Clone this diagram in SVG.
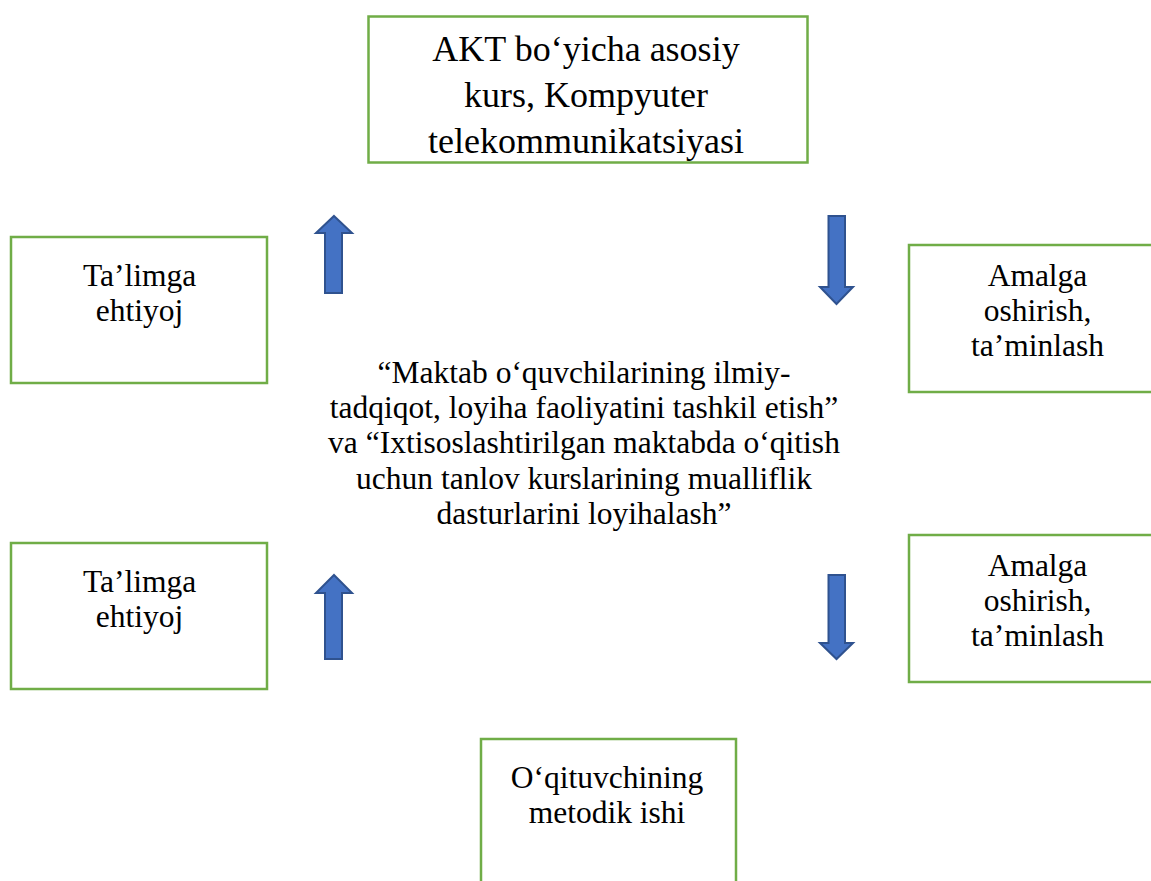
<svg xmlns="http://www.w3.org/2000/svg" width="1151" height="881" viewBox="0 0 1151 881">
<style>
.box{fill:#ffffff;stroke:#70AD47;stroke-width:2.5}
.t{font-family:'Liberation Serif','Times New Roman','DejaVu Serif',serif;font-size:31.5px;fill:#000;text-anchor:middle}
.big{font-size:36px}
.arr{fill:#4472C4;stroke:#2F528F;stroke-width:2;stroke-linejoin:miter}
</style>
<rect width="1151" height="881" fill="#ffffff"/>
<g id="node-top">
<rect class="box" x="368.5" y="16.5" width="439" height="146"/>
<text class="t big" x="586" y="61" font-family="Liberation Serif">AKT bo‘yicha asosiy</text>
<text class="t big" x="586" y="107" font-family="Liberation Serif">kurs, Kompyuter</text>
<text class="t big" x="586" y="153" font-family="Liberation Serif">telekommunikatsiyasi</text>
</g>
<g id="node-left1">
<rect class="box" x="11" y="237" width="256" height="146"/>
<text class="t" x="139.5" y="286">Ta’limga</text>
<text class="t" x="139.5" y="321">ehtiyoj</text>
</g>
<g id="node-left2">
<rect class="box" x="11" y="543" width="256" height="146"/>
<text class="t" x="139.5" y="592">Ta’limga</text>
<text class="t" x="139.5" y="627">ehtiyoj</text>
</g>
<g id="node-right1">
<rect class="box" x="909" y="245" width="260" height="147"/>
<text class="t" x="1037.5" y="286">Amalga</text>
<text class="t" x="1037.5" y="321">oshirish,</text>
<text class="t" x="1037.5" y="356">ta’minlash</text>
</g>
<g id="node-right2">
<rect class="box" x="909" y="535" width="260" height="147"/>
<text class="t" x="1037.5" y="576">Amalga</text>
<text class="t" x="1037.5" y="611">oshirish,</text>
<text class="t" x="1037.5" y="646">ta’minlash</text>
</g>
<g id="node-bottom">
<rect class="box" x="481" y="739" width="255" height="160"/>
<text class="t" x="607" y="788">O‘qituvchining</text>
<text class="t" x="607" y="823">metodik ishi</text>
</g>
<g id="node-center">
<text class="t" x="584" y="383">“Maktab o‘quvchilarining ilmiy-</text>
<text class="t" x="584" y="418">tadqiqot, loyiha faoliyatini tashkil etish”</text>
<text class="t" x="584" y="453">va “Ixtisoslashtirilgan maktabda o‘qitish</text>
<text class="t" x="584" y="489">uchun tanlov kurslarining mualliflik</text>
<text class="t" x="584" y="524">dasturlarini loyihalash”</text>
</g>
<g id="connectors">
<polygon class="arr" points="334,216 352,233 342,233 342,293 325,293 325,233 316,233"/>
<polygon class="arr" points="334,575 352,593 342,593 342,659 325,659 325,593 316,593"/>
<polygon class="arr" points="828.5,216 845,216 845,287 853,287 836.5,304 820,287 828.5,287"/>
<polygon class="arr" points="828.5,575 845,575 845,643 853,643 836.5,659 820,643 828.5,643"/>
</g>
</svg>
